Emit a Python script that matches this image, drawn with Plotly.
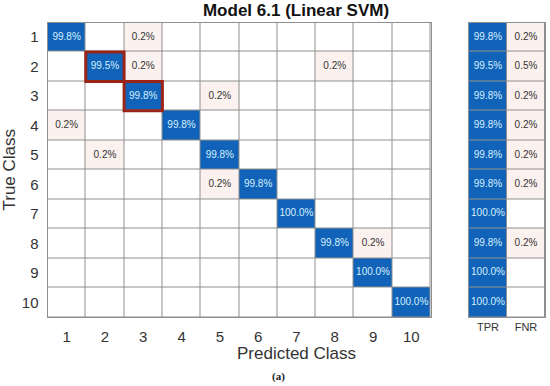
import plotly.graph_objects as go

classes = [1, 2, 3, 4, 5, 6, 7, 8, 9, 10]
diag_pct = [99.8, 99.5, 99.8, 99.8, 99.8, 99.8, 100.0, 99.8, 100.0, 100.0]
# off-diagonal entries: (true class, predicted class, percent)
off_true = [1, 2, 2, 3, 4, 5, 6, 8]
off_pred = [3, 3, 8, 5, 1, 2, 5, 9]
off_pct = [0.2, 0.2, 0.2, 0.2, 0.2, 0.2, 0.2, 0.2]
tpr = [99.8, 99.5, 99.8, 99.8, 99.8, 99.8, 100.0, 99.8, 100.0, 100.0]
fnr = [0.2, 0.5, 0.2, 0.2, 0.2, 0.2, 0.0, 0.2, 0.0, 0.0]
highlight = [2, 3]
side_labels = ["TPR", "FNR"]

BLUE = "#1063B8"
PALE = "#FBF1EE"
GRID = "#8F8F8F"
TXT_LIGHT = "#D6F0FF"
TXT_DARK = "#333333"
FONT = "Liberation Sans, Arial, sans-serif"

n = len(classes)
# colour codes: 0 empty, 1 off-diagonal, 2 diagonal
z = [[0] * n for _ in range(n)]
for i in range(n):
    z[i][i] = 2
for t, p, v in zip(off_true, off_pred, off_pct):
    if v > 0:
        z[t - 1][p - 1] = 1

zs = [[2 if tpr[i] > 0 else 0, 1 if fnr[i] > 0 else 0] for i in range(n)]
cs = [[0, "#FFFFFF"], [0.5, PALE], [1, BLUE]]

fig = go.Figure()
fig.add_trace(go.Heatmap(x=classes, y=classes, z=z, zmin=0, zmax=2, colorscale=cs,
                         showscale=False, xgap=1, ygap=1, hoverinfo="skip",
                         xaxis="x", yaxis="y"))
fig.add_trace(go.Heatmap(x=[1, 2], y=classes, z=zs, zmin=0, zmax=2, colorscale=cs,
                         showscale=False, xgap=1, ygap=1, hoverinfo="skip",
                         xaxis="x2", yaxis="y2"))

fig.add_trace(go.Scatter(x=classes, y=classes, mode="text",
                         text=[f"{v:.1f}%" for v in diag_pct],
                         textfont=dict(color=TXT_LIGHT, size=10, family=FONT),
                         hoverinfo="skip", xaxis="x", yaxis="y"))
fig.add_trace(go.Scatter(x=off_pred, y=off_true, mode="text",
                         text=[f"{v:.1f}%" for v in off_pct],
                         textfont=dict(color=TXT_DARK, size=10, family=FONT),
                         hoverinfo="skip", xaxis="x", yaxis="y"))
fig.add_trace(go.Scatter(x=[1] * n, y=classes, mode="text",
                         text=[f"{v:.1f}%" for v in tpr],
                         textfont=dict(color=TXT_LIGHT, size=10, family=FONT),
                         hoverinfo="skip", xaxis="x2", yaxis="y2"))
fy = [c for c, v in zip(classes, fnr) if v > 0]
fv = [v for v in fnr if v > 0]
fig.add_trace(go.Scatter(x=[2] * len(fy), y=fy, mode="text",
                         text=[f"{v:.1f}%" for v in fv],
                         textfont=dict(color=TXT_DARK, size=10, family=FONT),
                         hoverinfo="skip", xaxis="x2", yaxis="y2"))

for k in highlight:
    fig.add_shape(type="rect", xref="x", yref="y", x0=k - 0.5, x1=k + 0.5,
                  y0=k - 0.5, y1=k + 0.5, line=dict(color="#9B2418", width=3))

ydom = [1 - 317 / 386, 1 - 22.5 / 386]
axcommon = dict(showgrid=False, zeroline=False, showline=True, mirror=True,
                linecolor=GRID, linewidth=1, ticks="", automargin=False)
fig.update_layout(
    width=550, height=386, margin=dict(l=0, r=0, t=0, b=0),
    paper_bgcolor="white", plot_bgcolor=GRID, showlegend=False,
    font=dict(family=FONT, color="#262626"),
    title=dict(text="<b>Model 6.1 (Linear SVM)</b>", x=296 / 550, xanchor="center",
               y=1 - 10.5 / 386, yanchor="middle", font=dict(size=17, color="#111111")),
    xaxis=dict(domain=[47.5 / 550, 430.5 / 550], range=[0.5, 10.5], tickvals=classes,
               ticktext=[str(c) for c in classes], tickfont=dict(size=15, color="#333333"),
               ticklabelstandoff=6, anchor="y", **axcommon),
    yaxis=dict(domain=ydom, range=[10.5, 0.5], tickvals=classes,
               ticktext=[str(c) for c in classes], tickfont=dict(size=15, color="#333333"),
               ticklabelstandoff=5,
               title=dict(text="True Class", font=dict(size=17, color="#333333"),
                          standoff=6), anchor="x", **axcommon),
    xaxis2=dict(domain=[469 / 550, 545 / 550], range=[0.5, 2.5], tickvals=[1, 2],
                ticktext=side_labels, tickfont=dict(size=11, color="#333333"),
                ticklabelstandoff=0, anchor="y2", **axcommon),
    yaxis2=dict(domain=ydom, range=[10.5, 0.5], showticklabels=False, anchor="x2",
                **axcommon),
)
fig.add_annotation(text="Predicted Class", xref="paper", yref="paper", x=296 / 550,
                   y=1 - 353 / 386, xanchor="center", yanchor="middle", showarrow=False,
                   font=dict(family=FONT, size=17, color="#333333"))
fig.add_annotation(text="<b>(a)</b>", xref="paper", yref="paper", x=278 / 550,
                   y=1 - 376 / 386, xanchor="center", yanchor="middle", showarrow=False,
                   font=dict(family="Liberation Serif, Times New Roman, serif", size=11,
                             color="#222222"))

fig.write_html("out.html", config={"displayModeBar": False},
               post_script="document.body.style.margin='0';")
